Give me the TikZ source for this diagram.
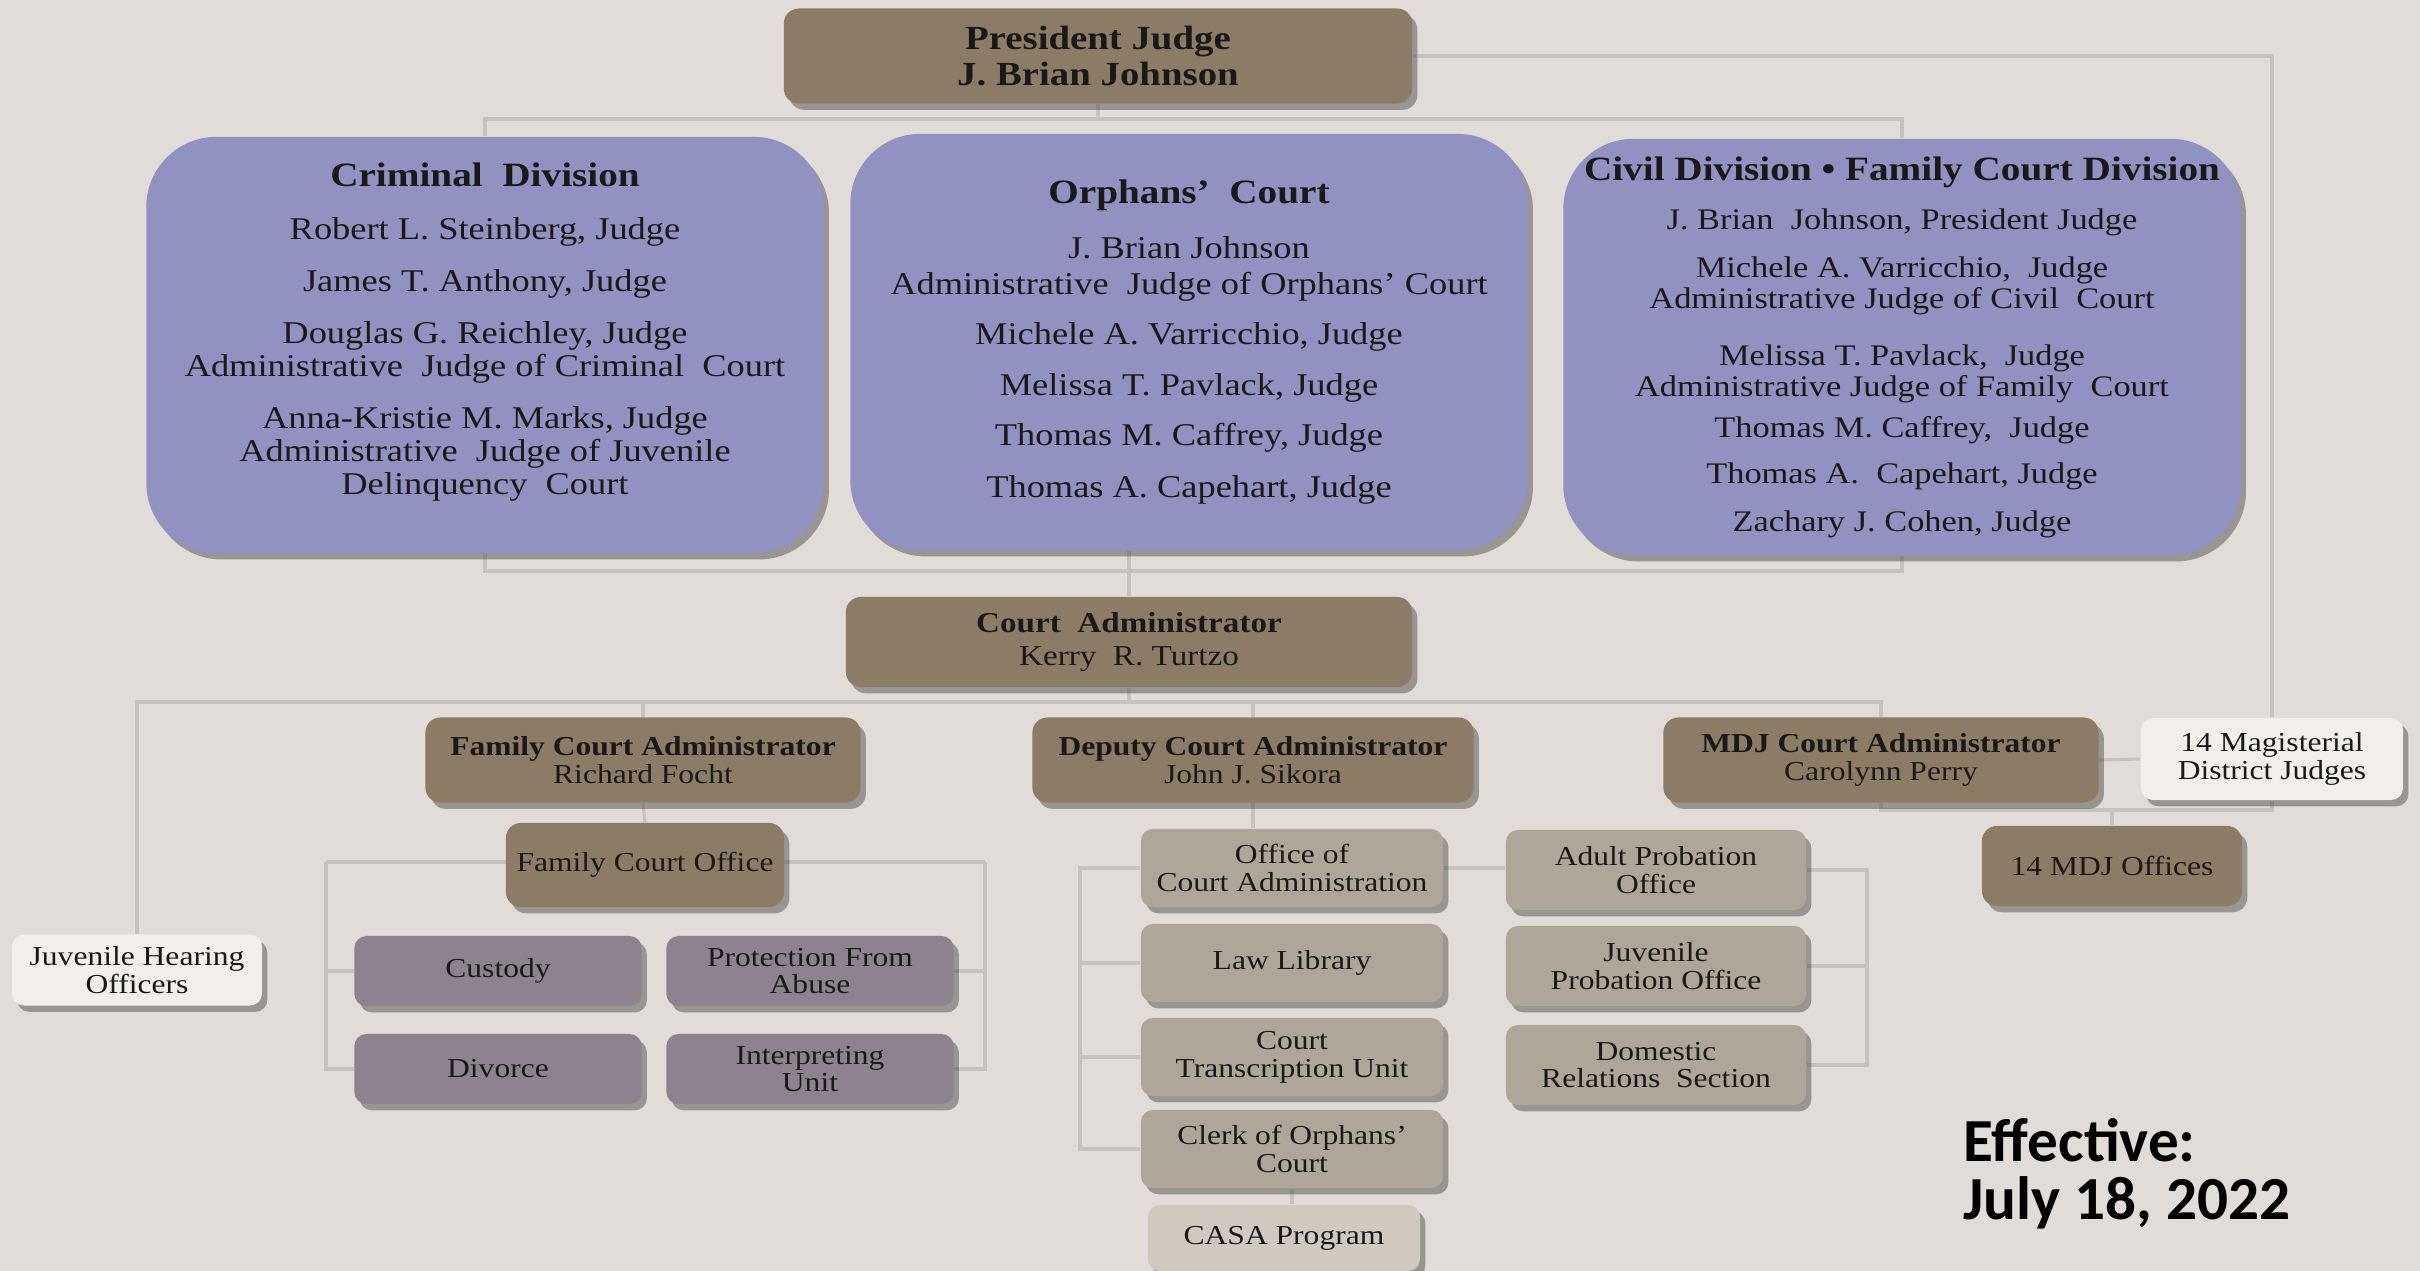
\documentclass[tikz,border=0pt]{standalone}
\usepackage{fontspec}
\setmainfont{Liberation Serif}[FakeStretch=1.15]
\newfontfamily\effont{Carlito}
\usetikzlibrary{shadows}

\definecolor{clrbg}{RGB}{225,220,215}
\definecolor{clrbrown}{RGB}{141,124,101}
\definecolor{clrlav}{RGB}{145,145,194}
\definecolor{clrmauve}{RGB}{140,131,142}
\definecolor{clrtaupe}{RGB}{174,166,152}
\definecolor{clrcasa}{RGB}{208,201,192}
\definecolor{clrwhite}{RGB}{242,239,235}
\definecolor{clrline}{RGB}{198,194,190}

\pgfdeclarelayer{background}
\pgfsetlayers{background,main}

\newcommand{\titlefnt}{\fontsize{9.7}{10}\selectfont\bfseries}
\newcommand{\smallfnt}{\fontsize{7.8}{7.9}\selectfont}

\tikzset{
  conn/.style={draw=clrline, line width=0.9pt},
  card/.style={align=center, inner sep=1pt, text=black!90,
    drop shadow={shadow xshift=1.5pt, shadow yshift=-1.8pt, opacity=0.45, fill=black!75}},
  headbox/.style={card, fill=clrbrown, rounded corners=0.15cm},
  divbox/.style={card, fill=clrlav, rounded corners=0.7cm,
    minimum width=6.77cm, minimum height=4.16cm},
  unitbox/.style={card, fill=clrtaupe, rounded corners=0.12cm, font=\smallfnt,
    minimum width=3.02cm, minimum height=0.78cm},
  famunit/.style={card, fill=clrmauve, rounded corners=0.12cm, font=\smallfnt,
    minimum width=2.87cm, minimum height=0.70cm},
  lightbox/.style={card, fill=clrwhite, rounded corners=0.12cm, font=\smallfnt},
}

\begin{document}
\begin{tikzpicture}[x=0.01cm, y=-0.01cm]
%\draw[step=100,gray,very thin] (0,0) grid (2420,1271);
\useasboundingbox (0,0) rectangle (2420,1271);

% top
\node[headbox, minimum width=6.28cm, minimum height=0.95cm,
  font=\fontsize{9.6}{10}\selectfont\bfseries] (pres) at (1098,56)
  {President Judge\\J. Brian Johnson};

% divisions
\node[divbox, font=\fontsize{9}{9.4}\selectfont] (crim) at (485,345) {%
  {\titlefnt Criminal\ \ Division}\\[5.6pt]
  Robert L. Steinberg, Judge\\[5.4pt]
  James T. Anthony, Judge\\[5.4pt]
  Douglas G. Reichley, Judge\\
  Administrative\ \ Judge of Criminal\ \ Court\\[5.4pt]
  Anna-Kristie M. Marks, Judge\\
  Administrative\ \ Judge of Juvenile\\
  Delinquency\ \ Court\\[0pt]\mbox{}};
\node[divbox, font=\fontsize{9}{10}\selectfont] (orph) at (1189,342) {%
  {\titlefnt Orphans'\ \ Court}\\[5.8pt]
  J. Brian Johnson\\
  Administrative\ \ Judge of Orphans' Court\\[4.2pt]
  Michele A. Varricchio, Judge\\[4.6pt]
  Melissa T. Pavlack, Judge\\[4.2pt]
  Thomas M. Caffrey, Judge\\[4.8pt]
  Thomas A. Capehart, Judge};
\node[divbox, font=\fontsize{8.5}{8.8}\selectfont] (civil) at (1902,347) {%
  {\titlefnt Civil Division • Family Court Division}\\[5.2pt]
  J. Brian\ \ Johnson, President Judge\\[4.8pt]
  Michele A. Varricchio,\ \ Judge\\
  Administrative Judge of Civil\ \ Court\\[7.4pt]
  Melissa T. Pavlack,\ \ Judge\\
  Administrative Judge of Family\ \ Court\\[3pt]
  Thomas M. Caffrey,\ \ Judge\\[4.2pt]
  Thomas A.\ \ Capehart, Judge\\[4.8pt]
  Zachary J. Cohen, Judge};

% administration
\node[headbox, minimum width=5.66cm, minimum height=0.90cm,
  font=\fontsize{8.2}{9.2}\selectfont] (cadm) at (1129,642)
  {\textbf{Court\ \ Administrator}\\Kerry\ \ R. Turtzo};
\node[headbox, minimum width=4.35cm, minimum height=0.85cm, font=\smallfnt] (fca) at (643,760)
  {\textbf{Family Court Administrator}\\Richard Focht};
\node[headbox, minimum width=4.41cm, minimum height=0.85cm, font=\smallfnt] (dca) at (1253,760)
  {\textbf{Deputy Court Administrator}\\John J. Sikora};
\node[headbox, minimum width=4.35cm, minimum height=0.85cm, font=\smallfnt] (mdj) at (1881,760)
  {\textbf{MDJ Court Administrator}\\Carolynn Perry};
\node[lightbox, minimum width=2.62cm, minimum height=0.82cm] (mag) at (2272,759)
  {14 Magisterial\\District Judges};
\node[headbox, minimum width=2.60cm, minimum height=0.80cm, font=\smallfnt] (mdjo) at (2112,866)
  {14 MDJ Offices};

% family court
\node[headbox, minimum width=2.78cm, minimum height=0.84cm, font=\smallfnt] (fco) at (645,865)
  {Family Court Office};
\node[lightbox, minimum width=2.50cm, minimum height=0.71cm] (jho) at (137,970)
  {Juvenile Hearing\\Officers};
\node[famunit] (cust) at (498,971) {Custody};
\node[famunit] (prot) at (810,971) {Protection From\\Abuse};
\node[famunit] (divorce) at (498,1069) {Divorce};
\node[famunit] (interp) at (810,1069) {Interpreting\\Unit};

% deputy
\node[unitbox] (oca) at (1292,868) {Office of\\Court Administration};
\node[unitbox] (law) at (1292,963) {Law Library};
\node[unitbox] (tran) at (1292,1057) {Court\\Transcription Unit};
\node[unitbox] (clerk) at (1292,1149) {Clerk of Orphans'\\Court};
\node[unitbox, fill=clrcasa, minimum width=2.72cm, minimum height=0.66cm] (casa) at (1284,1238)
  {CASA Program};
\node[unitbox, minimum width=3.00cm, minimum height=0.80cm] (adult) at (1656,870)
  {Adult Probation\\Office};
\node[unitbox, minimum width=3.00cm, minimum height=0.80cm] (juv) at (1656,966)
  {Juvenile\\Probation Office};
\node[unitbox, minimum width=3.00cm, minimum height=0.80cm] (dom) at (1656,1065)
  {Domestic\\Relations\ \ Section};

\node[anchor=north west, inner sep=0pt, align=left,
  font=\effont\fontsize{17.4}{16.5}\selectfont\bfseries] (eff) at (1963,1118)
  {Effective:\\July 18, 2022};

% bus points
\coordinate (topbus) at (1098,119);
\coordinate (midbus) at (1129,571);
\coordinate (lowbus) at (1129,702);
\coordinate (mdjbus) at (2112,810);
\coordinate (famL) at (326,862);
\coordinate (famR) at (985,862);
\coordinate (depL) at (1080,868);
\coordinate (probR) at (1867,870);

\begin{pgfonlayer}{background}
\fill[clrbg] (0,0) rectangle (2420,1271);
\draw[conn] (pres) -- (topbus);
\draw[conn] (crim.north) |- (topbus) -| (civil.north);
\draw[conn] (pres.east) -| (mag.north);
\draw[conn] (crim.south) |- (midbus) -| (civil.south);
\draw[conn] (midbus |- orph.south) -- (cadm.north);
\draw[conn] (cadm.south) -- (lowbus);
\draw[conn] (jho.north) |- (lowbus) -| (mdj.north);
\draw[conn] (fca.north) -- (fca.north |- lowbus);
\draw[conn] (dca.north) -- (dca.north |- lowbus);
\draw[conn] (mdj.east) -- (mag.west);
\draw[conn] (mdj.south) |- (mdjbus) -| (mag.south);
\draw[conn] (mdjo.north) -- (mdjbus);
\draw[conn] (fca.south) -- (fco.north);
\draw[conn] (famL) -- (famR);
\draw[conn] (famL) |- (divorce.west);
\draw[conn] (famL |- cust.west) -- (cust.west);
\draw[conn] (famR) |- (interp.east);
\draw[conn] (famR |- prot.east) -- (prot.east);
\draw[conn] (dca.south) -- (dca.south |- oca.north);
\draw[conn] (oca.west) -- (depL) |- (clerk.west);
\draw[conn] (depL |- law.west) -- (law.west);
\draw[conn] (depL |- tran.west) -- (tran.west);
\draw[conn] (oca.east) -- (oca.east -| adult.west);
\draw[conn] (adult.east) -- (probR) |- (dom.east);
\draw[conn] (juv.east) -- (probR |- juv.east);
\draw[conn] (clerk.south) -- (clerk.south |- casa.north);
\end{pgfonlayer}
\end{tikzpicture}
\end{document}
